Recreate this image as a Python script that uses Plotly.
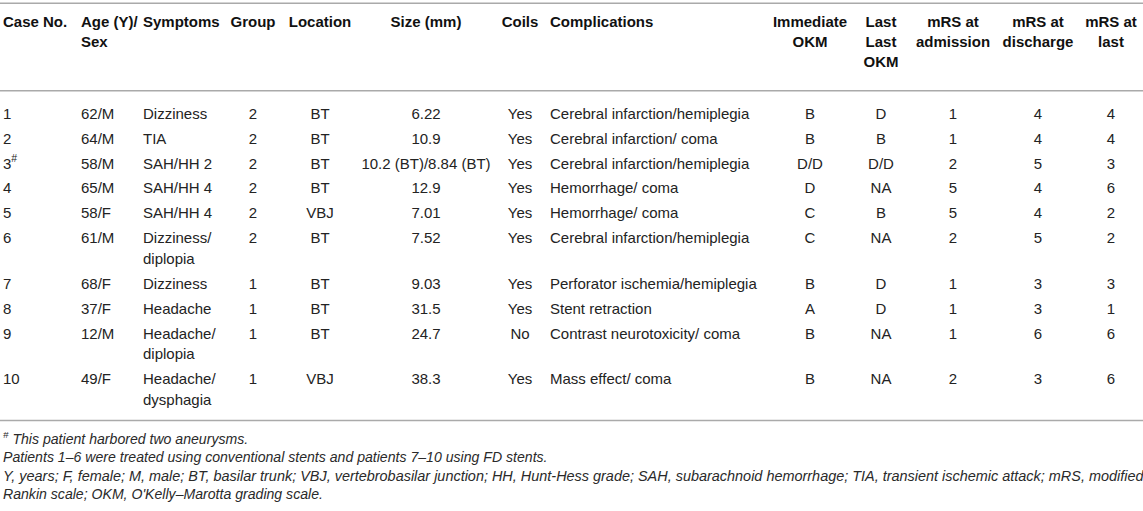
import plotly.graph_objects as go

# ---------------- data ----------------
headers = ["Case No.", "Age (Y)/<br>Sex", "Symptoms", "Group", "Location", "Size (mm)",
           "Coils", "Complications", "Immediate<br>OKM", "Last<br>Last<br>OKM",
           "mRS at<br>admission", "mRS at<br>discharge", "mRS at<br>last"]

case_no = ["1", "2", "3<sup>#</sup>", "4", "5", "6", "7", "8", "9", "10"]
age_sex = ["62/M", "64/M", "58/M", "65/M", "58/F", "61/M", "68/F", "37/F", "12/M", "49/F"]
symptoms = ["Dizziness", "TIA", "SAH/HH 2", "SAH/HH 4", "SAH/HH 4", "Dizziness/<br>diplopia",
            "Dizziness", "Headache", "Headache/<br>diplopia", "Headache/<br>dysphagia"]
group = ["2", "2", "2", "2", "2", "2", "1", "1", "1", "1"]
location = ["BT", "BT", "BT", "BT", "VBJ", "BT", "BT", "BT", "BT", "VBJ"]
size_mm = ["6.22", "10.9", "10.2 (BT)/8.84 (BT)", "12.9", "7.01", "7.52", "9.03", "31.5", "24.7", "38.3"]
coils = ["Yes", "Yes", "Yes", "Yes", "Yes", "Yes", "Yes", "Yes", "No", "Yes"]
complications = ["Cerebral infarction/hemiplegia", "Cerebral infarction/ coma",
                 "Cerebral infarction/hemiplegia", "Hemorrhage/ coma", "Hemorrhage/ coma",
                 "Cerebral infarction/hemiplegia", "Perforator ischemia/hemiplegia",
                 "Stent retraction", "Contrast neurotoxicity/ coma", "Mass effect/ coma"]
okm_immediate = ["B", "B", "D/D", "D", "C", "C", "B", "A", "B", "B"]
okm_last = ["D", "B", "D/D", "NA", "B", "NA", "D", "D", "NA", "NA"]
mrs_admission = ["1", "1", "2", "5", "5", "2", "1", "1", "1", "2"]
mrs_discharge = ["4", "4", "5", "4", "4", "5", "3", "3", "6", "3"]
mrs_last = ["4", "4", "3", "6", "2", "2", "3", "1", "6", "6"]

footnotes = [
    "<sup>#</sup> This patient harbored two aneurysms.",
    "Patients 1–6 were treated using conventional stents and patients 7–10 using FD stents.",
    "Y, years; F, female; M, male; BT, basilar trunk; VBJ, vertebrobasilar junction; HH, Hunt-Hess grade; "
    "SAH, subarachnoid hemorrhage; TIA, transient ischemic attack; mRS, modified",
    "Rankin scale; OKM, O'Kelly–Marotta grading scale.",
]

# ---------------- layout (positions / styles) ----------------
W, H = 1143, 511
FONT = "Liberation Sans, Arial, Helvetica, sans-serif"
BODY_SIZE = 15
FOOT_SIZES = [14.1, 14.1, 14.45, 14.1]   # third line is justified (wider) in the source
BODY_COLOR = "#232323"
HEAD_COLOR = "#111111"
FOOT_COLOR = "#2a2a2a"
RULE_COLOR = "#aaaaaa"

columns = [  # (values, x, align)
    (case_no, 3, "left"),
    (age_sex, 81, "left"),
    (symptoms, 143, "left"),
    (group, 253, "center"),
    (location, 320, "center"),
    (size_mm, 426, "center"),
    (coils, 520, "center"),
    (complications, 550, "left"),
    (okm_immediate, 810, "center"),
    (okm_last, 881, "center"),
    (mrs_admission, 953, "center"),
    (mrs_discharge, 1038, "center"),
    (mrs_last, 1111, "center"),
]

HEAD_Y0, HEAD_PITCH = 23, 20
ROW_Y0, ROW_PITCH, LINE_PITCH = 115, 24.9, 20.6
RULES_Y = [3.3, 90.7, 420.5]
FOOT_Y0, FOOT_PITCH = 440.5, 18.2

# row y positions computed from number of lines in each row
n_rows = len(case_no)
row_lines = []
for r in range(n_rows):
    row_lines.append(max(len(col[0][r].split("<br>")) for col in columns))
row_y = []
y = ROW_Y0
for r in range(n_rows):
    row_y.append(y)
    y += ROW_PITCH + LINE_PITCH * (row_lines[r] - 1)

fig = go.Figure()


def add_text(xs, ys, texts, align, size, color, bold=False, italic=False):
    fig.add_trace(go.Scatter(
        x=xs, y=ys, text=texts, mode="text",
        textposition="middle right" if align == "left" else "middle center",
        textfont=dict(family=FONT, size=size, color=color,
                      weight="bold" if bold else "normal",
                      style="italic" if italic else "normal"),
        hoverinfo="skip", showlegend=False, cliponaxis=False,
    ))


# header
for (vals, x, align), head in zip(columns, headers):
    lines = head.split("<br>")
    add_text([x] * len(lines), [HEAD_Y0 + i * HEAD_PITCH for i in range(len(lines))],
             lines, align, BODY_SIZE, HEAD_COLOR, bold=True)

# body
for vals, x, align in columns:
    xs, ys, ts = [], [], []
    for r, v in enumerate(vals):
        for i, line in enumerate(v.split("<br>")):
            xs.append(x)
            ys.append(row_y[r] + i * LINE_PITCH)
            ts.append(line)
    add_text(xs, ys, ts, align, BODY_SIZE, BODY_COLOR)

# footnotes
add_text([3] * len(footnotes), [FOOT_Y0 + i * FOOT_PITCH for i in range(len(footnotes))],
         footnotes, "left", FOOT_SIZES, FOOT_COLOR, italic=True)

for yr in RULES_Y:
    fig.add_shape(type="line", xref="x", yref="y", x0=0, x1=W, y0=yr, y1=yr,
                  line=dict(color=RULE_COLOR, width=1.5))

fig.update_layout(
    width=W, height=H, autosize=False,
    margin=dict(l=0, r=0, t=0, b=0, pad=0),
    paper_bgcolor="white", plot_bgcolor="white",
    xaxis=dict(range=[0, W], visible=False, fixedrange=True),
    yaxis=dict(range=[H, 0], visible=False, fixedrange=True),
    showlegend=False,
)

fig.write_html("out.html", config={"displayModeBar": False, "staticPlot": True},
               post_script="document.body.style.margin='0';document.body.style.overflow='hidden';")
